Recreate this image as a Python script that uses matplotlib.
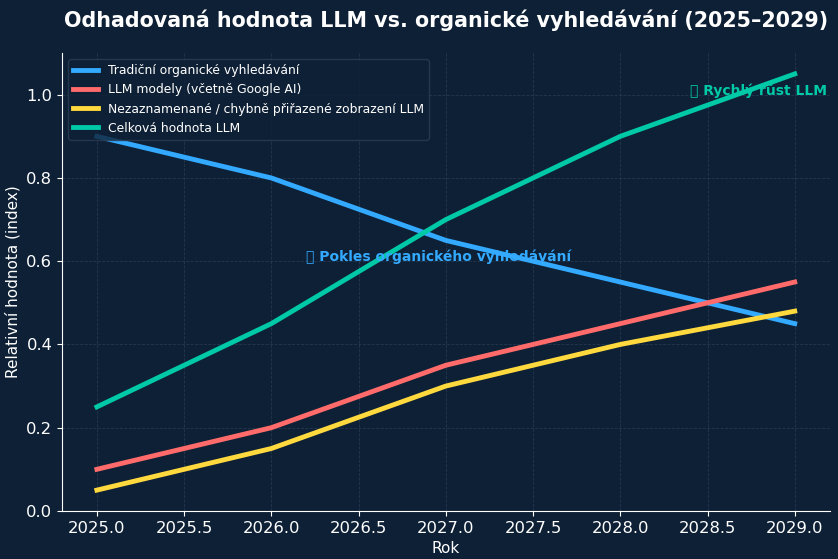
import matplotlib.pyplot as plt

years = [2025, 2026, 2027, 2028, 2029]
organic = [0.9, 0.8, 0.65, 0.55, 0.45]
llm_models = [0.1, 0.2, 0.35, 0.45, 0.55]
unattributed = [0.05, 0.15, 0.3, 0.4, 0.48]
llm_total = [0.25, 0.45, 0.7, 0.9, 1.05]

bg = "#0e2035"

fig, ax = plt.subplots(figsize=(8.38, 5.59), dpi=100)
fig.patch.set_facecolor(bg)
ax.set_facecolor(bg)

ax.plot(years, organic, color="#33aaff", lw=3.5, label="Tradiční organické vyhledávání")
ax.plot(years, llm_models, color="#ff6b6b", lw=3.5, label="LLM modely (včetně Google AI)")
ax.plot(years, unattributed, color="#ffd93d", lw=3.5, label="Nezaznamenané / chybně přiřazené zobrazení LLM")
ax.plot(years, llm_total, color="#00c9a7", lw=3.5, label="Celková hodnota LLM")

# annotations (emoji not in installed fonts -> drawn as box like the reference)
ax.text(2026.2, 0.6, "📉 Pokles organického vyhledávání", color="#33aaff",
        fontsize=10, fontweight="bold")
ax.text(2028.4, 1.0, "📈 Rychlý růst LLM", color="#00c9a7",
        fontsize=10, fontweight="bold")

ax.set_title("Odhadovaná hodnota LLM vs. organické vyhledávání (2025–2029)",
             color="white", fontsize=14.9, fontweight="bold", pad=19)
ax.set_xlabel("Rok", color="white", fontsize=11)
ax.set_ylabel("Relativní hodnota (index)", color="white", fontsize=11)
ax.set_xlim(2024.8, 2029.2)
ax.set_ylim(0, 1.1)
ax.tick_params(colors="white", labelsize=11.8)
ax.grid(True, color="#2a3d55", linestyle="--", linewidth=0.6, alpha=0.8)
for s in ["top", "right"]:
    ax.spines[s].set_visible(False)
for s in ["left", "bottom"]:
    ax.spines[s].set_color("white")

leg = ax.legend(loc="upper left", fontsize=8.9, facecolor="#0e2035",
                edgecolor="#2a3d55", labelcolor="white")

plt.subplots_adjust(left=0.074, right=0.99, top=0.905, bottom=0.086)
plt.savefig("out.png", facecolor=bg)
